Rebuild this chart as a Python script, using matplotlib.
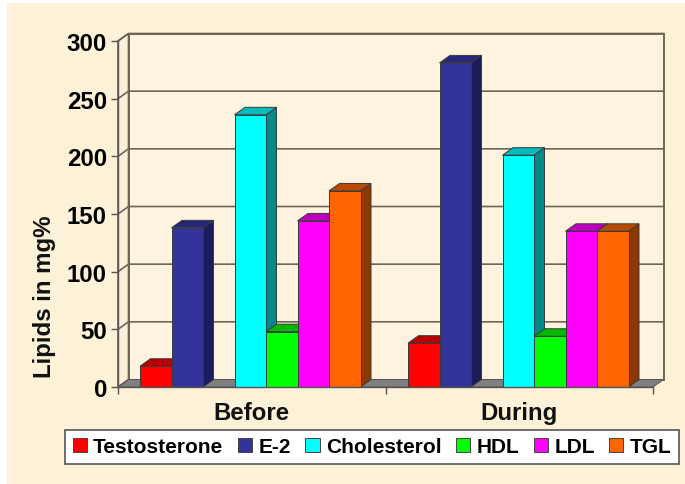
import matplotlib
matplotlib.use("Agg")
import matplotlib.pyplot as plt
from matplotlib.patches import Patch, Polygon, Rectangle

W, H = 685, 485

groups = ["Before", "During"]
series = ["Testosterone", "E-2", "Cholesterol", "HDL", "LDL", "TGL"]
before = [18, 138, 236, 48, 144, 170]
during = [38, 281, 201, 44, 135, 135]
yticks = [0, 50, 100, 150, 200, 250, 300]

front = ["#ff0000", "#333399", "#00ffff", "#00ff00", "#ff00ff", "#ff6600"]
top = ["#b80000", "#26267a", "#00bcbc", "#00b800", "#bc00bc", "#b84a00"]
side = ["#8c0000", "#1c1c5c", "#008a8a", "#008c00", "#8c008c", "#8c3800"]
slots = [0, 1, 3, 4, 5, 6]

plt.rcParams["font.family"] = ["Liberation Sans", "DejaVu Sans"]
plt.rcParams["font.weight"] = "bold"

fig = plt.figure(figsize=(W / 100, H / 100), dpi=100, facecolor="white")
fig.add_artist(Rectangle((7 / W, 0), 1 - 7 / W, 1 - 4 / H, transform=fig.transFigure,
                         fc="#fdf1d7", ec="none", zorder=-5))

ax = fig.add_axes([118 / W, 1 - 388 / H, 535 / W, 346 / H])
ax.patch.set_alpha(0)
ax.set_xlim(0, 2)
ax.set_ylim(0, 300)

# depth and bar size, in data units
dx = 10.5 / 267.5
dy = 7.5 / 346 * 300
bw = 31.5 / 267.5
start = [22 / 267.5, 1 + 22.5 / 267.5]


def poly(pts, fc, ec="#3a3a3a", z=3, lw=0.7):
    ax.add_patch(Polygon(pts, closed=True, fc=fc, ec=ec, lw=lw, zorder=z, clip_on=False))


# walls and floor
poly([(0, 0), (dx, dy), (dx, 300 + dy), (0, 300)], "#fbf0d8", "#6e6654", 1, 1.2)
poly([(dx, dy), (2 + dx, dy), (2 + dx, 300 + dy), (dx, 300 + dy)], "#fdf3de", "#6e6654", 1, 1.4)
poly([(0, 0), (2, 0), (2 + dx, dy), (dx, dy)], "#808080", "#555555", 1, 0.7)

for v in yticks[1:]:
    ax.plot([0, dx, 2 + dx], [v, v + dy, v + dy], color="#6e6654", lw=1.2, zorder=2, clip_on=False)

# bars, left to right so each front face covers its neighbour's side
for g, vals in enumerate([before, during]):
    for i, v in enumerate(vals):
        x0 = start[g] + slots[i] * bw
        x1 = x0 + bw
        z = 3 + slots[i] * 0.1
        poly([(x1, 0), (x1 + dx, dy), (x1 + dx, v + dy), (x1, v)], side[i], z=z)
        poly([(x0, v), (x1, v), (x1 + dx, v + dy), (x0 + dx, v + dy)], top[i], z=z)
        poly([(x0, 0), (x1, 0), (x1, v), (x0, v)], front[i], z=z + 0.05)

for s in ["top", "right"]:
    ax.spines[s].set_visible(False)
for s in ["left", "bottom"]:
    ax.spines[s].set_color("#555555")
    ax.spines[s].set_linewidth(1.0)
    ax.spines[s].set_zorder(8)

ax.set_yticks(yticks)
ax.set_xticks([0, 1, 2])
ax.set_xticklabels([])
ax.tick_params(axis="both", color="#555555", width=1.0, length=5)
ax.tick_params(axis="y", labelsize=17.3, pad=3)
for gx, name in zip([0.5, 1.5], groups):
    ax.annotate(name, (gx, 0), xytext=(0, -18.5), textcoords="offset points", ha="center",
                va="center", fontsize=17.3, fontweight="bold", color="#111111")
ax.set_ylabel("Lipids in mg%", fontsize=17.3, fontweight="bold", labelpad=8, color="#111111")
ax.yaxis.label.set_y(0.265)

handles = [Patch(fc=c, ec="#444444", lw=0.7) for c in front]
leg = fig.legend(handles, series, ncol=6, loc="center", bbox_to_anchor=(372 / W, 1 - 447.5 / H),
                 fontsize=15, frameon=True, fancybox=False, edgecolor="#555555", facecolor="white",
                 framealpha=1, handlelength=0.68, handleheight=0.68, handletextpad=0.3,
                 columnspacing=0.7, borderpad=0.36)
leg.get_frame().set_linewidth(1.2)

fig.savefig("out.png", dpi=100, facecolor=fig.get_facecolor())
